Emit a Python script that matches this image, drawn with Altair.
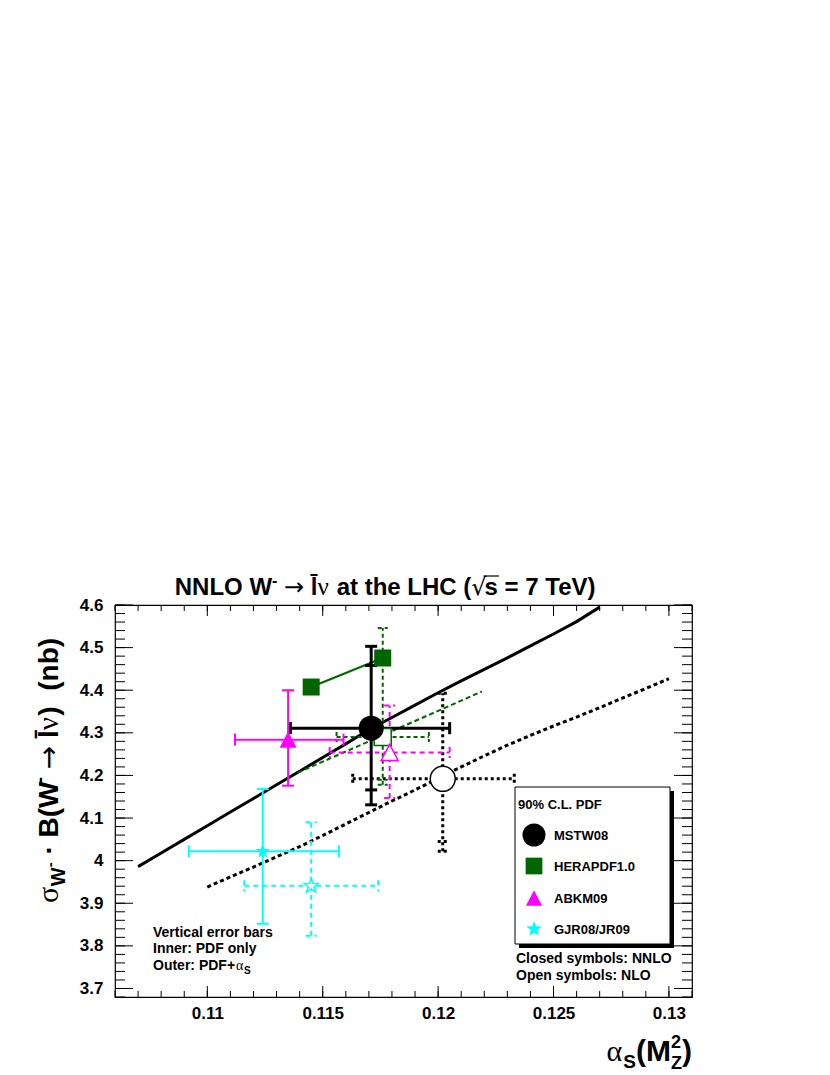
import math
import altair as alt
import pandas as pd

FONT = "Liberation Sans"
GREEK = "Liberation Serif"
ARROWF = "DejaVu Sans"

# ---------------- data ----------------
nnlo_curve_alpha = [0.107, 0.108, 0.109, 0.110, 0.111, 0.112, 0.113, 0.114, 0.115, 0.116, 0.117,
                    0.118, 0.119, 0.120, 0.121, 0.122, 0.123, 0.124, 0.125, 0.126, 0.127]
nnlo_curve_sigma = [3.986, 4.018, 4.050, 4.082, 4.114, 4.146, 4.178, 4.210, 4.242, 4.274, 4.307,
                    4.336, 4.365, 4.394, 4.422, 4.449, 4.476, 4.504, 4.532, 4.561, 4.595]
nlo_curve_alpha = [0.110, 0.111, 0.112, 0.113, 0.114, 0.115, 0.116, 0.117, 0.118, 0.119, 0.120,
                   0.121, 0.122, 0.123, 0.124, 0.125, 0.126, 0.127, 0.128, 0.129, 0.130]
nlo_curve_sigma = [3.938, 3.962, 3.985, 4.009, 4.033, 4.059, 4.086, 4.113, 4.140, 4.166, 4.193,
                   4.220, 4.246, 4.271, 4.294, 4.316, 4.337, 4.359, 4.382, 4.404, 4.427]

hera_nnlo_alpha = [0.1145, 0.1176]
hera_nnlo_sigma = [4.4075, 4.4756]
hera_nlo_line_alpha = [0.1139, 0.1219]
hera_nlo_line_sigma = [4.206, 4.397]

bar_pdf = ["MSTW08", "MSTW08", "HERAPDF1.0", "ABKM09", "ABKM09", "GJR08/JR09", "GJR08/JR09"]
bar_order = ["NNLO", "NLO", "NLO", "NNLO", "NLO", "NNLO", "NLO"]
bar_alpha = [0.1171, 0.1202, 0.1176, 0.1135, 0.1179, 0.1124, 0.1145]
bar_sigma = [4.311, 4.192, 4.290, 4.284, 4.254, 4.022, 3.941]
bar_alpha_lo = [0.1136, 0.1163, 0.1156, 0.1112, 0.1153, 0.1092, 0.1116]
bar_alpha_hi = [0.1205, 0.1233, 0.1196, 0.1159, 0.1205, 0.1157, 0.1174]
bar_sigma_lo = [4.131, 4.022, 4.178, 4.176, 4.147, 3.852, 3.824]
bar_sigma_hi = [4.503, 4.393, 4.546, 4.400, 4.364, 4.168, 4.090]
bar_inner_lo = [4.166, 4.045, 4.190, None, None, None, None]
bar_inner_hi = [4.458, None, None, None, None, None, None]

nnlo_pt_pdf = ["MSTW08", "HERAPDF1.0", "HERAPDF1.0", "ABKM09", "GJR08/JR09"]
nnlo_pt_alpha = [0.1171, 0.1145, 0.1176, 0.1135, 0.1124]
nnlo_pt_sigma = [4.311, 4.4075, 4.4756, 4.284, 4.022]
nlo_pt_pdf = ["MSTW08", "HERAPDF1.0", "ABKM09", "GJR08/JR09"]
nlo_pt_alpha = [0.1202, 0.1176, 0.1179, 0.1145]
nlo_pt_sigma = [4.192, 4.290, 4.254, 3.941]

legend_names = ["MSTW08", "HERAPDF1.0", "ABKM09", "GJR08/JR09"]
x_tick_labels = [0.11, 0.115, 0.12, 0.125, 0.13]
y_tick_labels = [3.7, 3.8, 3.9, 4.0, 4.1, 4.2, 4.3, 4.4, 4.5, 4.6]

# ---------------- styles ----------------
W, H = 577, 392
X_DOMAIN = [0.106, 0.131]
Y_DOMAIN = [3.68, 4.60]

star_pts = []
for k in range(10):
    r = 1.0 if k % 2 == 0 else 0.42
    a = -math.pi / 2 + k * math.pi / 5
    star_pts.append(f"{r*math.cos(a):.3f},{r*math.sin(a):.3f}")
STAR = "M" + "L".join(star_pts) + "Z"
TRI = "M0,-0.95L1,0.95L-1,0.95Z"
HCAP = "M-1,0L1,0"
VCAP = "M0,-1L0,1"

pdf_color = {"MSTW08": "#000000", "HERAPDF1.0": "#006600", "ABKM09": "#ff00ff", "GJR08/JR09": "#00ffff"}
pdf_shape = {"MSTW08": "circle", "HERAPDF1.0": "square", "ABKM09": TRI, "GJR08/JR09": STAR}
pdf_size = {"MSTW08": 625, "HERAPDF1.0": 289, "ABKM09": 289, "GJR08/JR09": 230}
legend_size = {"MSTW08": 529, "HERAPDF1.0": 280, "ABKM09": 260, "GJR08/JR09": 260}
bar_style = {
    ("MSTW08", "NNLO"): (3, None, 12),
    ("MSTW08", "NLO"): (3, [3, 3], 10),
    ("HERAPDF1.0", "NLO"): (2, [4, 3], 10),
    ("ABKM09", "NNLO"): (2, None, 12),
    ("ABKM09", "NLO"): (2, [5, 4], 11),
    ("GJR08/JR09", "NNLO"): (2, None, 12),
    ("GJR08/JR09", "NLO"): (2, [5, 4], 11),
}

xscale = alt.Scale(domain=X_DOMAIN, nice=False, zero=False)
yscale = alt.Scale(domain=Y_DOMAIN, nice=False, zero=False)
xaxis = alt.Axis(values=x_tick_labels, labelExpr="toString(datum.value)", ticks=False, domain=False,
                 grid=False, labelFont=FONT, labelFontSize=17, labelFontWeight="bold",
                 labelColor="black", labelPadding=8, labelFlush=False, labelOverlap=False, title="")
yaxis = alt.Axis(values=y_tick_labels, labelExpr="toString(datum.value)", ticks=False, domain=False,
                 grid=False, labelFont=FONT, labelFontSize=17, labelFontWeight="bold",
                 labelColor="black", labelPadding=12, labelFlush=False, labelOverlap=False, title="")


def X(f):
    return alt.X(f, type="quantitative", scale=xscale, axis=xaxis)


def Y(f):
    return alt.Y(f, type="quantitative", scale=yscale, axis=yaxis)


layers = []

# curves
df_nnlo = pd.DataFrame({"a": nnlo_curve_alpha, "s": nnlo_curve_sigma})
df_nlo = pd.DataFrame({"a": nlo_curve_alpha, "s": nlo_curve_sigma})
layers.append(alt.Chart(df_nnlo).mark_line(color="black", strokeWidth=3).encode(x=X("a"), y=Y("s")))
layers.append(alt.Chart(df_nlo).mark_line(color="black", strokeWidth=3, strokeDash=[4, 3]).encode(x=X("a"), y=Y("s")))

# HERAPDF lines
layers.append(alt.Chart(pd.DataFrame({"a": hera_nlo_line_alpha, "s": hera_nlo_line_sigma}))
              .mark_line(color=pdf_color["HERAPDF1.0"], strokeWidth=2, strokeDash=[5, 3]).encode(x=X("a"), y=Y("s")))
layers.append(alt.Chart(pd.DataFrame({"a": hera_nnlo_alpha, "s": hera_nnlo_sigma}))
              .mark_line(color=pdf_color["HERAPDF1.0"], strokeWidth=2).encode(x=X("a"), y=Y("s")))


def bar_layers(i):
    pdf, order = bar_pdf[i], bar_order[i]
    w, dash, cap = bar_style[(pdf, order)]
    col = pdf_color[pdf]
    extra = {} if dash is None else {"strokeDash": dash}
    row = pd.DataFrame({"a": [bar_alpha[i]], "s": [bar_sigma[i]], "alo": [bar_alpha_lo[i]],
                        "ahi": [bar_alpha_hi[i]], "slo": [bar_sigma_lo[i]], "shi": [bar_sigma_hi[i]]})
    out = [
        alt.Chart(row).mark_rule(color=col, strokeWidth=w, **extra).encode(x=X("alo"), x2=alt.X2("ahi"), y=Y("s")),
        alt.Chart(row).mark_rule(color=col, strokeWidth=w, **extra).encode(x=X("a"), y=Y("slo"), y2=alt.Y2("shi")),
    ]
    hc_s = [bar_sigma_lo[i], bar_sigma_hi[i]] + [v for v in (bar_inner_lo[i], bar_inner_hi[i]) if v is not None]
    hc = pd.DataFrame({"a": [bar_alpha[i]] * len(hc_s), "s": hc_s})
    vc = pd.DataFrame({"a": [bar_alpha_lo[i], bar_alpha_hi[i]], "s": [bar_sigma[i]] * 2})
    out.append(alt.Chart(hc).mark_point(shape=HCAP, size=cap * cap, filled=False, color=col, strokeWidth=w,
                                        opacity=1, **extra).encode(x=X("a"), y=Y("s")))
    out.append(alt.Chart(vc).mark_point(shape=VCAP, size=cap * cap, filled=False, color=col, strokeWidth=w,
                                        opacity=1, **extra).encode(x=X("a"), y=Y("s")))
    return out


for i in range(len(bar_pdf)):
    if bar_order[i] == "NLO":
        layers += bar_layers(i)
for i in range(len(bar_pdf)):
    if bar_order[i] == "NNLO":
        layers += bar_layers(i)

# open (NLO) markers
for p, a, s in zip(nlo_pt_pdf, nlo_pt_alpha, nlo_pt_sigma):
    layers.append(alt.Chart(pd.DataFrame({"a": [a], "s": [s]}))
                  .mark_point(shape=pdf_shape[p], size=pdf_size[p], filled=True, fill="white",
                              stroke=pdf_color[p], strokeWidth=1.5, opacity=1)
                  .encode(x=X("a"), y=Y("s")))
# closed (NNLO) markers
for p, a, s in zip(nnlo_pt_pdf, nnlo_pt_alpha, nnlo_pt_sigma):
    layers.append(alt.Chart(pd.DataFrame({"a": [a], "s": [s]}))
                  .mark_point(shape=pdf_shape[p], size=pdf_size[p], filled=True, color=pdf_color[p], opacity=1)
                  .encode(x=X("a"), y=Y("s")))

# ---------------- ticks (inward, ROOT style) ----------------
x_minor = [round(0.106 + 0.001 * k, 3) for k in range(26)]
y_minor = [round(3.68 + 0.02 * k, 2) for k in range(47)]
df_xmin = pd.DataFrame({"a": x_minor})
df_xmaj = pd.DataFrame({"a": x_tick_labels})
df_ymin = pd.DataFrame({"s": y_minor})
df_ymaj = pd.DataFrame({"s": y_tick_labels})
tk = dict(color="black", strokeWidth=1)
for df, ln in ((df_xmin, 6), (df_xmaj, 11)):
    layers.append(alt.Chart(df).mark_rule(**tk).encode(x=X("a"), y=alt.value(H), y2=alt.value(H - ln)))
    layers.append(alt.Chart(df).mark_rule(**tk).encode(x=X("a"), y=alt.value(0), y2=alt.value(ln)))
for df, ln in ((df_ymin, 10), (df_ymaj, 18)):
    layers.append(alt.Chart(df).mark_rule(**tk).encode(y=Y("s"), x=alt.value(0), x2=alt.value(ln)))
    layers.append(alt.Chart(df).mark_rule(**tk).encode(y=Y("s"), x=alt.value(W), x2=alt.value(W - ln)))

# ---------------- text helpers ----------------
one = pd.DataFrame({"k": [0]})


def text(s, x, y, size, bold=True, align="left", angle=0, font=FONT):
    kw = dict(text=s, fontSize=size, font=font, fontWeight="bold" if bold else "normal",
              align=align, baseline="alphabetic", color="black")
    if angle:
        kw["angle"] = angle
    return alt.Chart(one).mark_text(**kw).encode(x=alt.value(x), y=alt.value(y))


WID = {" ": 0.278, "(": 0.333, ")": 0.333, "B": 0.722, "W": 0.944, "n": 0.611, "b": 0.611,
       "·": 0.278, "l": 0.278, "-": 0.333, "M": 0.833, "S": 0.667, "Z": 0.611, "2": 0.556,
       "σ": 0.56, "ν": 0.5, "α": 0.56, "→": 0.838, "\u0304": 0.0,
       "N": 0.722, "L": 0.611, "O": 0.778, "a": 0.556, "t": 0.333, "h": 0.611, "e": 0.556,
       "H": 0.722, "C": 0.722, "√": 0.55, "s": 0.556, "=": 0.584, "7": 0.556, "T": 0.611, "V": 0.667}


def tw(s, size):
    return sum(WID.get(c, 0.6) for c in s) * size


def lead(s, size):
    return (len(s) - len(s.lstrip(" "))) * WID[" "] * size


# title (built from pieces; spaces handled as explicit offsets)
TB = -10
t_pieces = [("NNLO W", 24, True, FONT, 0), ("-", 16, True, FONT, -9),
            (" → ", 24, False, ARROWF, 0), ("l\u0304", 24, True, FONT, 0),
            ("ν", 25, False, GREEK, 0), (" at the LHC (", 24, True, FONT, 0),
            ("√", 24, False, ARROWF, 0), ("s", 24, True, FONT, 0), (" = 7 TeV)", 24, True, FONT, 0)]
t_total = sum(tw(p[0], p[1]) for p in t_pieces)
xx = 271 - t_total / 2
s_span = None
for s, sz, b, f, sh in t_pieces:
    layers.append(text(s.strip(" "), xx + lead(s, sz), TB + sh, sz, bold=b, font=f))
    if s == "s":
        s_span = (xx - 1, xx + tw(s, sz) + 1)
    xx += tw(s, sz)
layers.append(alt.Chart(one).mark_rule(color="black", strokeWidth=1.2).encode(
    x=alt.value(s_span[0]), x2=alt.value(s_span[1]), y=alt.value(TB - 19)))

# y-axis title (rotated, built bottom-to-top)
y_pieces = [("σ", 30, False, GREEK, 0), ("W", 20, True, FONT, 7), ("-", 15, True, FONT, -3),
            (" · B(W", 28, True, FONT, 0), ("-", 18, True, FONT, -12), (" → ", 28, False, ARROWF, 0),
            ("l\u0304", 28, True, FONT, 0), ("ν", 29, False, GREEK, 0), (")", 28, True, FONT, 0),
            ("  (nb)", 28, True, FONT, 0)]
ypos = 298
for s, sz, b, f, sh in y_pieces:
    layers.append(text(s.strip(" "), -57 + sh, ypos - lead(s, sz), sz, bold=b, angle=270, font=f))
    ypos -= tw(s, sz)

# x-axis title
x_pieces = [("α", 30, False, GREEK, 0), ("S", 19, True, FONT, 7), ("(M", 30, True, FONT, 0),
            ("2", 18, True, FONT, -13), (")", 30, True, FONT, 0)]
total = tw("α", 30) + tw("S", 19) + tw("(M", 30) + tw("Z", 18) + tw(")", 30)
xpos = W - total
base = 456
for s, sz, b, f, sh in x_pieces:
    layers.append(text(s, xpos, base + sh, sz, bold=b, font=f))
    if s == "2":
        layers.append(text("Z", xpos, base + 8, sz, bold=b, font=f))
        xpos += tw("Z", sz)
    else:
        xpos += tw(s, sz)

# notes
layers.append(text("Vertical error bars", 38, 332, 14))
layers.append(text("Inner: PDF only", 38, 348, 14))
layers.append(text("Outer: PDF+", 38, 365, 14))
layers.append(text("α", 38 + 83, 365, 14, bold=False, font=GREEK))
layers.append(text("S", 38 + 91, 369, 10))
layers.append(text("Closed symbols: NNLO", 401, 358, 14))
layers.append(text("Open symbols: NLO", 401, 375, 14))

# legend box with shadow
layers.append(alt.Chart(one).mark_rect(color="black").encode(
    x=alt.value(404), x2=alt.value(559), y=alt.value(186), y2=alt.value(343)))
layers.append(alt.Chart(one).mark_rect(fill="white", stroke="black", strokeWidth=1).encode(
    x=alt.value(400), x2=alt.value(555), y=alt.value(182), y2=alt.value(339)))
layers.append(text("90% C.L. PDF", 403, 204, 13))
ly = [230, 261, 293, 324]
for name, yy in zip(legend_names, ly):
    layers.append(alt.Chart(one).mark_point(shape=pdf_shape[name], size=legend_size[name], filled=True,
                                            color=pdf_color[name], opacity=1)
                  .encode(x=alt.value(419), y=alt.value(yy)))
    layers.append(text(name, 439, yy + 5, 13))

chart = alt.layer(*layers).properties(
    width=W, height=H,
    autosize=alt.AutoSizeParams(type="none"),
    padding={"left": 107, "top": 597, "right": 45, "bottom": 78},
).configure_view(stroke="black", strokeWidth=1.2)

chart.save("out.html", embed_options={"renderer": "svg", "actions": False})
